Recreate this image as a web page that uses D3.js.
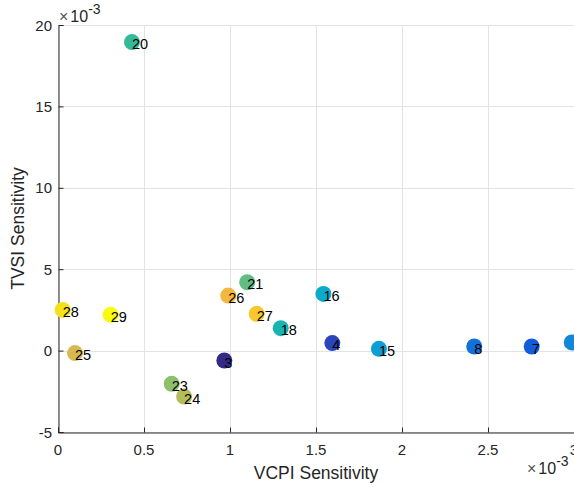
<!DOCTYPE html>
<html lang="en">
<head>
<meta charset="UTF-8">
<title>sensitivity scatter</title>
<script src="https://d3js.org/d3.v7.min.js"></script>
<style>
	body { margin: 0; background: #fff; }
	svg { display: block; font-family: Arial, "Liberation Sans", sans-serif; }
	.grid line { stroke: #e3e3e3; stroke-width: 1; }
	.tick-label { font-size: 15px; fill: #262626; }
	.axis-title { font-size: 17.5px; fill: #262626; }
	.pt-label { font-size: 14.5px; fill: #000; }
</style>
</head>
<body>
<div id="viz"></div>
<script>
	// values are in units of 1e-3; the point at the right edge has its label outside the view
	var labels = ["3", "4", "7", "8", "", "15", "16", "18", "20", "21", "23", "24", "25", "26", "27", "28", "29"];
	var vcpi = [0.967, 1.595, 2.754, 2.42, 2.987, 1.866, 1.543, 1.295, 0.430, 1.100, 0.661, 0.733, 0.099, 0.990, 1.155, 0.027, 0.306];
	var tvsi = [-0.61, 0.46, 0.25, 0.25, 0.50, 0.11, 3.48, 1.38, 18.95, 4.20, -2.04, -2.82, -0.15, 3.38, 2.26, 2.50, 2.20];
	var xTicks = [0, 0.5, 1, 1.5, 2, 2.5, 3];
	var yTicks = [-5, 0, 5, 10, 15, 20];

	// parula colormap anchors
	var parula = ["#352a87", "#3145bd", "#0a5de0", "#136fda", "#1485d4", "#0ea0d6", "#07abcf", "#16b5b0",
		"#33b89a", "#62bd82", "#8ec16c", "#b4bd5a", "#d8b955", "#f6b23e", "#fcc72e", "#f2e01d", "#f9fb0e"];

	var width = 574, height = 487;
	var margin = {top: 25, left: 58, right: 0, bottom: 55};

	var x = d3.scaleLinear().domain([0, 3]).range([margin.left, width - margin.right]);
	var y = d3.scaleLinear().domain([-5, 20]).range([height - margin.bottom, margin.top]);
	var color = d3.scaleSequential(d3.interpolateRgbBasis(parula)).domain([0, labels.length - 1]);

	var svg = d3.select("#viz").append("svg")
		.attr("width", width)
		.attr("height", height);

	var data = labels.map(function (l, i) {
		return {label: l, x: vcpi[i], y: tvsi[i], i: i};
	});

	// grid
	var grid = svg.append("g").attr("class", "grid");
	grid.selectAll(".gx").data(xTicks).enter().append("line")
		.attr("x1", function (d) { return Math.round(x(d)) + 0.5; })
		.attr("x2", function (d) { return Math.round(x(d)) + 0.5; })
		.attr("y1", y(-5)).attr("y2", y(20));
	grid.selectAll(".gy").data(yTicks).enter().append("line")
		.attr("y1", function (d) { return Math.round(y(d)) + 0.5; })
		.attr("y2", function (d) { return Math.round(y(d)) + 0.5; })
		.attr("x1", x(0)).attr("x2", x(3));

	// axes with inward ticks
	var xAxis = svg.append("g")
		.attr("transform", "translate(0," + (Math.round(y(-5)) + 0.5) + ")")
		.call(d3.axisTop(x).tickValues(xTicks).tickSize(5).tickFormat(""));
	var yAxis = svg.append("g")
		.attr("transform", "translate(" + (Math.round(x(0)) + 0.5) + ",0)")
		.call(d3.axisRight(y).tickValues(yTicks).tickSize(5).tickFormat(""));
	[xAxis, yAxis].forEach(function (a) {
		a.select(".domain").attr("stroke", "#262626");
		a.selectAll(".tick line").attr("stroke", "#262626");
	});

	svg.selectAll(".xt").data(xTicks).enter().append("text")
		.attr("class", "tick-label")
		.attr("x", function (d) { return x(d); })
		.attr("y", y(-5) + 23)
		.attr("text-anchor", "middle")
		.text(function (d) { return d; });
	svg.selectAll(".yt").data(yTicks).enter().append("text")
		.attr("class", "tick-label")
		.attr("x", x(0) - 6)
		.attr("y", function (d) { return y(d) + 5.5; })
		.attr("text-anchor", "end")
		.text(function (d) { return d; });

	// exponent markers
	function exponent(px, py) {
		var t = svg.append("text").attr("class", "tick-label").attr("x", px).attr("y", py)
			.style("font-size", "16px");
		t.append("tspan").style("fill", "#555").text("\u00d7");
		t.append("tspan").attr("dx", 2).text("10");
		t.append("tspan").attr("dy", -8).style("font-size", "14px").text("-3");
	}
	exponent(59, 22);
	exponent(527, 474);

	// axis titles
	svg.append("text").attr("class", "axis-title")
		.attr("x", (x(0) + x(3)) / 2).attr("y", 479)
		.attr("text-anchor", "middle")
		.text("VCPI Sensitivity");
	svg.append("text").attr("class", "axis-title")
		.attr("transform", "translate(24," + (y(-5) + y(20)) / 2 + ") rotate(-90)")
		.attr("text-anchor", "middle")
		.text("TVSI Sensitivity");

	// points
	svg.append("g").selectAll("circle").data(data).enter().append("circle")
		.attr("cx", function (d) { return x(d.x); })
		.attr("cy", function (d) { return y(d.y); })
		.attr("r", 8)
		.attr("fill", function (d) { return color(d.i); });

	svg.append("g").selectAll("text").data(data).enter().append("text")
		.attr("class", "pt-label")
		.attr("x", function (d) { return x(d.x); })
		.attr("y", function (d) { return y(d.y); })
		.attr("dy", "0.5em")
		.text(function (d) { return d.label; });
</script>
</body>
</html>
